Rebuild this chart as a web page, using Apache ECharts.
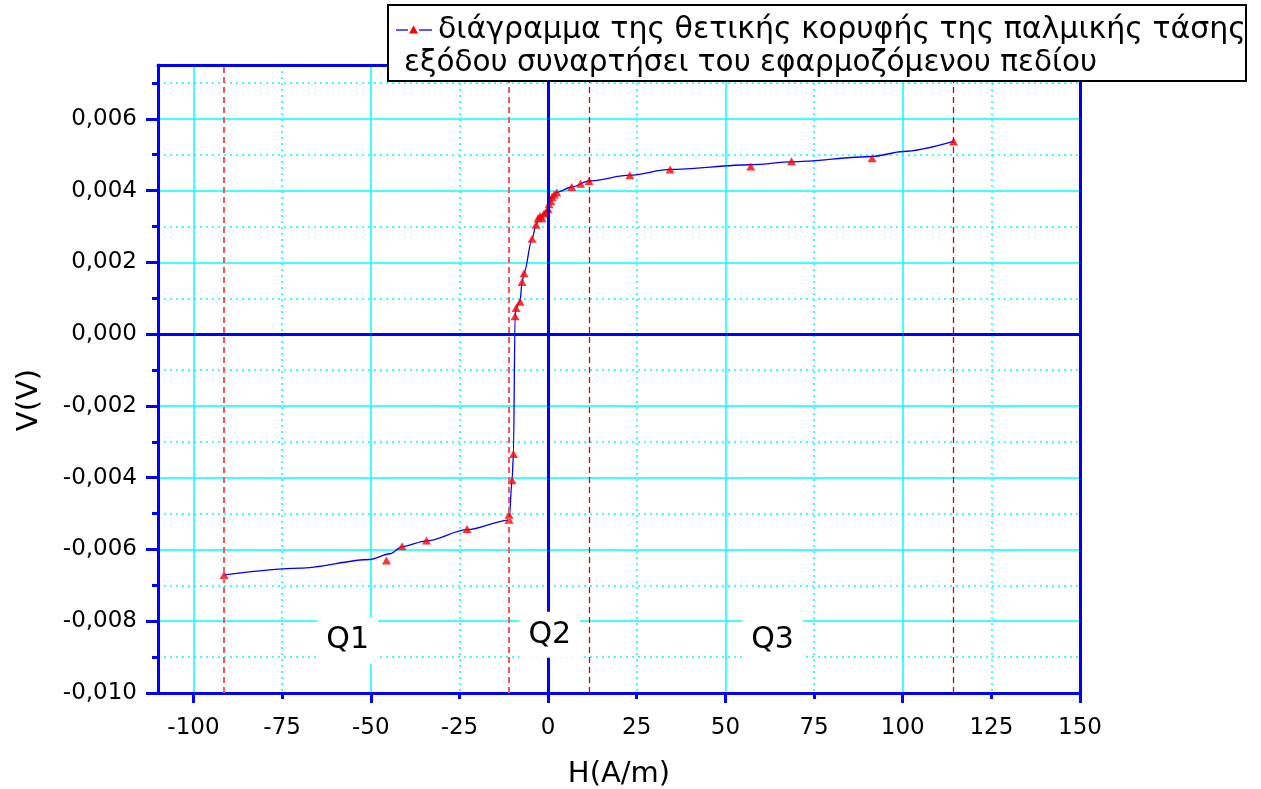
<!DOCTYPE html>
<html>
<head>
<meta charset="utf-8">
<script src="https://cdn.jsdelivr.net/npm/echarts@6/dist/echarts.min.js"></script>
<style>
  html, body { margin: 0; padding: 0; background: #ffffff; }
  #chart { width: 1261px; height: 789px; }
</style>
</head>
<body>
<div id="chart"></div>
<script>
// Measured peak points: applied field H (A/m) and positive pulse peak V (V)
const fieldH = [-91.37, -45.57, -41.17, -34.29, -22.84, -11.0, -11.0, -10.15, -9.76,
  -9.31, -9.02, -7.90, -7.33, -6.77, -4.51, -3.38, -2.82, -2.26, -1.69, -1.13, -0.56,
  0.0, 0.28, 0.76, 1.13, 1.69, 2.45, 6.68, 9.14, 11.56, 23.04, 34.41, 57.16, 68.64,
  91.37, 114.33];
const peakV = [-0.00671, -0.00631, -0.00591, -0.00575, -0.00543, -0.00517, -0.00503,
  -0.00407, -0.00334, 0.00050, 0.00073, 0.00090, 0.00145, 0.00170, 0.00266, 0.00305,
  0.00323, 0.00329, 0.00323, 0.00336, 0.00339, 0.00348, 0.00362, 0.00371, 0.00382,
  0.00389, 0.00395, 0.00410, 0.00419, 0.00427, 0.00443, 0.00459, 0.00467, 0.00482,
  0.00490, 0.00537];

// Smoothed trend curve drawn through the measurements
const curveH = [-91.37, -70.0, -50.3, -44.6, -41.17, -34.29, -22.84, -11.0,
  -10.15, -9.76, -9.31, -9.02, -7.90, -7.33, -6.77, -4.51, -3.38, -2.5, -1.2, 0.0, 0.5,
  1.1, 2.45, 6.68, 11.56, 23.04, 34.41, 57.16, 68.64, 91.4, 100.1, 114.33];
const curveV = [-0.00671, -0.00652, -0.00628, -0.00612, -0.00592, -0.00576,
  -0.00545, -0.00518, -0.00407, -0.00334, 0.00050, 0.00073, 0.00092, 0.00145,
  0.00170, 0.00266, 0.00305, 0.00325, 0.00337, 0.00350, 0.00365, 0.00380, 0.00395,
  0.00410, 0.00427, 0.00443, 0.00459, 0.00472, 0.00480, 0.00495, 0.00509, 0.00537];

// Region boundaries and region names
const regionBounds = [-91.4, -11.0, 11.6, 114.3];
const regionNames = ['Q1', 'Q2', 'Q3'];
const regionNameH = [-56.5, 0.5, 63.3];
const regionNameV = [-0.00854, -0.00838, -0.00854];

// Axis ticks
const xMajorTicks = [-100, -50, 0, 50, 100, 150];
const xMinorTicks = [-75, -25, 25, 75, 125];
const xLabelTicks = [-100, -75, -50, -25, 0, 25, 50, 75, 100, 125, 150];
const yMajorTicks = [-0.010, -0.008, -0.006, -0.004, -0.002, 0.000, 0.002, 0.004, 0.006];
const yMinorTicks = [-0.009, -0.007, -0.005, -0.003, -0.001, 0.001, 0.003, 0.005, 0.007];

const seriesName = 'διάγραμμα της θετικής κορυφής της παλμικής τάσης εξόδου συναρτήσει του εφαρμοζόμενου πεδίου';
const legendLines = ['διάγραμμα της θετικής κορυφής της παλμικής τάσης',
  'εξόδου συναρτήσει του εφαρμοζόμενου πεδίου'];

const FONT = 'DejaVu Sans';
const BLUE = '#0000ff';
const CYAN = '#00ffff';
const X_MIN = -110, X_MAX = 150, Y_MIN = -0.010, Y_MAX = 0.0075;

const chart = echarts.init(document.getElementById('chart'), null, { renderer: 'canvas' });

function frameAxis(position, min, max) {
  return {
    type: 'value', position: position, min: min, max: max,
    axisLine: { show: true, onZero: false, lineStyle: { color: BLUE, width: 3 } },
    axisTick: { show: false }, axisLabel: { show: false },
    splitLine: { show: false }, splitArea: { show: false }, minorSplitLine: { show: false }
  };
}

const option = {
  animation: false,
  backgroundColor: '#ffffff',
  grid: { left: 158, right: 181, top: 65, bottom: 96, containLabel: false, outerBoundsMode: 'none' },
  xAxis: [
    {
      type: 'value', min: X_MIN, max: X_MAX, position: 'bottom',
      name: 'H(A/m)', nameLocation: 'middle', nameGap: 67,
      nameTextStyle: { fontFamily: FONT, fontSize: 29, color: '#000' },
      axisLine: { show: true, onZero: false, lineStyle: { color: BLUE, width: 3 } },
      axisTick: { show: true, length: 10, customValues: xMajorTicks, lineStyle: { color: BLUE, width: 3 } },
      axisLabel: { customValues: xLabelTicks, margin: 24, fontFamily: FONT, fontSize: 23, color: '#000' },
      splitLine: { show: true, lineStyle: { color: CYAN, width: 1.5 } },
      splitArea: { show: false }
    },
    {
      type: 'value', min: X_MIN, max: X_MAX, position: 'bottom',
      axisLine: { show: false, onZero: false },
      axisTick: { show: true, length: 6, customValues: xMinorTicks, lineStyle: { color: BLUE, width: 3 } },
      axisLabel: { show: false },
      splitLine: { show: true, lineStyle: { color: CYAN, width: 1.5, type: [2, 4] } },
      splitArea: { show: false }
    },
    frameAxis('top', X_MIN, X_MAX)
  ],
  yAxis: [
    {
      type: 'value', min: Y_MIN, max: Y_MAX, position: 'left',
      name: 'V(V)', nameLocation: 'middle', nameGap: 114,
      nameTextStyle: { fontFamily: FONT, fontSize: 29, color: '#000', padding: [0, 42, 0, 0] },
      axisLine: { show: true, onZero: false, lineStyle: { color: BLUE, width: 3 } },
      axisTick: { show: true, length: 12, customValues: yMajorTicks, lineStyle: { color: BLUE, width: 3 } },
      axisLabel: {
        customValues: yMajorTicks, margin: 21, fontFamily: FONT, fontSize: 23, color: '#000',
        formatter: v => v.toFixed(3).replace('.', ',')
      },
      splitLine: { show: true, lineStyle: { color: CYAN, width: 1.5 } },
      splitArea: { show: false }
    },
    {
      type: 'value', min: Y_MIN, max: Y_MAX, position: 'left',
      axisLine: { show: false, onZero: false },
      axisTick: { show: true, length: 6, customValues: yMinorTicks, lineStyle: { color: BLUE, width: 3 } },
      axisLabel: { show: false },
      splitLine: { show: true, lineStyle: { color: CYAN, width: 1.5, type: [2, 4] } },
      splitArea: { show: false }
    },
    frameAxis('right', Y_MIN, Y_MAX)
  ],
  series: [
    {
      name: seriesName,
      type: 'line',
      xAxisIndex: 0, yAxisIndex: 0,
      data: curveH.map((h, i) => [h, curveV[i]]),
      smooth: 0.3,
      smoothMonotone: 'x',
      showSymbol: false,
      symbol: 'none',
      lineStyle: { color: BLUE, width: 1.3 },
      silent: true,
      z: 3,
      markLine: {
        silent: true, symbol: 'none', label: { show: false },
        lineStyle: { color: BLUE, width: 3, type: 'solid' },
        data: [{ xAxis: 0 }, { yAxis: 0 }]
      }
    },
    {
      name: seriesName,
      type: 'scatter',
      xAxisIndex: 0, yAxisIndex: 0,
      data: fieldH.map((h, i) => [h, peakV[i]]),
      symbol: 'triangle',
      symbolSize: [9, 8],
      itemStyle: { color: '#ff0000' },
      silent: true,
      z: 4,
      markLine: {
        silent: true, symbol: 'none', label: { show: false },
        data: regionBounds.map((b, i) => ({
          xAxis: b,
          lineStyle: i < 2
            ? { color: '#f25a5a', width: 2, type: [6, 4] }
            : { color: '#d80000', width: 1.3, type: [6, 4] }
        }))
      }
    }
  ]
};

chart.setOption(option);

// Legend box and region names (region names placed through the axis scales)
const legendGraphics = [
  {
    type: 'rect', z: 100,
    shape: { x: 388, y: 5, width: 858, height: 76 },
    style: { fill: '#ffffff', stroke: '#000000', lineWidth: 2 }
  },
  {
    type: 'line', z: 101,
    shape: { x1: 396, y1: 30, x2: 408, y2: 30 },
    style: { stroke: BLUE, lineWidth: 1.3 }
  },
  {
    type: 'line', z: 101,
    shape: { x1: 419, y1: 30, x2: 432, y2: 30 },
    style: { stroke: BLUE, lineWidth: 1.3 }
  },
  {
    type: 'polygon', z: 101,
    shape: { points: [[413.5, 25.5], [418, 33.5], [409, 33.5]] },
    style: { fill: '#ff0000' }
  },
  {
    type: 'text', z: 101, x: 438, y: 30,
    style: { text: legendLines[0], font: '30px "DejaVu Sans"', fill: '#000', verticalAlign: 'middle' }
  },
  {
    type: 'text', z: 101, x: 404, y: 63,
    style: { text: legendLines[1], font: '29.5px "DejaVu Sans"', fill: '#000', verticalAlign: 'middle' }
  }
];

const regionGraphics = regionNames.map((name, i) => {
  const p = chart.convertToPixel({ xAxisIndex: 0, yAxisIndex: 0 }, [regionNameH[i], regionNameV[i]]);
  return {
    type: 'text', z: 90, x: p[0], y: p[1],
    style: {
      text: name, font: '30px "DejaVu Sans"', fill: '#000000',
      align: 'center', verticalAlign: 'middle',
      backgroundColor: '#ffffff', padding: [8, 9, 8, 9]
    }
  };
});

chart.setOption({ graphic: legendGraphics.concat(regionGraphics) });
</script>
</body>
</html>
